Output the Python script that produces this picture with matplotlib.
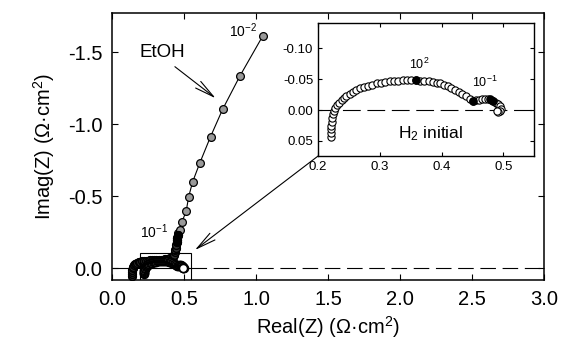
import numpy as np
import matplotlib
matplotlib.use("Agg")
import matplotlib.pyplot as plt
from matplotlib.patches import Rectangle

plt.rcParams['font.family'] = ['Liberation Sans', 'DejaVu Sans']
plt.rcParams['mathtext.default'] = 'regular'
plt.rcParams['axes.unicode_minus'] = False

# EtOH spectrum
etoh_x = [0.135, 0.135, 0.136, 0.138, 0.141, 0.145, 0.150, 0.157, 0.165, 0.174,
          0.184, 0.195, 0.207, 0.220, 0.234, 0.248, 0.262, 0.277, 0.292, 0.307,
          0.322, 0.337, 0.352, 0.366, 0.380, 0.393, 0.404, 0.413, 0.420, 0.427,
          0.433, 0.438, 0.442, 0.446, 0.449, 0.451, 0.453, 0.455, 0.459, 0.472,
          0.484, 0.514, 0.531, 0.558, 0.609, 0.683, 0.767, 0.887, 1.047]
etoh_y = [0.055, 0.040, 0.025, 0.012, 0.000, -0.010, -0.018, -0.025, -0.031, -0.036,
          -0.040, -0.043, -0.046, -0.048, -0.050, -0.052, -0.053, -0.054, -0.055, -0.056,
          -0.057, -0.058, -0.059, -0.060, -0.062, -0.064, -0.067, -0.072, -0.080, -0.092,
          -0.108, -0.125, -0.142, -0.160, -0.178, -0.195, -0.212, -0.228, -0.245, -0.264,
          -0.319, -0.396, -0.495, -0.597, -0.731, -0.912, -1.102, -1.333, -1.613]
# decade markers (filled black)
etoh_dec_x = [0.449, 0.451, 0.453, 0.455]
etoh_dec_y = [-0.178, -0.195, -0.212, -0.228]

# H2 initial spectrum
h2_x = [0.221, 0.221, 0.221, 0.2215, 0.222, 0.223, 0.2245, 0.226, 0.228, 0.231,
        0.234, 0.238, 0.242, 0.246, 0.251, 0.256, 0.262, 0.268, 0.274, 0.281,
        0.288, 0.295, 0.302, 0.309, 0.316, 0.323, 0.330, 0.337, 0.344, 0.351,
        0.358, 0.365, 0.372, 0.379, 0.386, 0.392, 0.398, 0.404, 0.410, 0.416,
        0.422, 0.428, 0.434, 0.440, 0.446, 0.451, 0.456, 0.461, 0.466, 0.471,
        0.476, 0.480, 0.484, 0.488, 0.491, 0.494, 0.496, 0.495, 0.492, 0.490]
h2_y = [0.043, 0.037, 0.031, 0.025, 0.019, 0.013, 0.007, 0.002, -0.003, -0.008,
        -0.012, -0.016, -0.020, -0.023, -0.026, -0.029, -0.032, -0.035, -0.037, -0.039,
        -0.041, -0.043, -0.0445, -0.0455, -0.0465, -0.047, -0.0475, -0.048, -0.048, -0.048,
        -0.048, -0.0475, -0.047, -0.0465, -0.0455, -0.0445, -0.043, -0.041, -0.039, -0.036,
        -0.033, -0.030, -0.026, -0.022, -0.018, -0.015, -0.016, -0.017, -0.018, -0.018,
        -0.018, -0.017, -0.015, -0.012, -0.009, -0.006, -0.002, 0.001, 0.003, 0.002]
h2_dec_x = [0.358, 0.451, 0.479, 0.484]
h2_dec_y = [-0.048, -0.015, -0.018, -0.015]

main_xticks = [0.0, 0.5, 1.0, 1.5, 2.0, 2.5, 3.0]
main_yticks = [0.0, -0.5, -1.0, -1.5]
ins_xticks = [0.2, 0.3, 0.4, 0.5]
ins_yticks = [-0.10, -0.05, 0.00, 0.05]

fig = plt.figure(figsize=(5.7, 3.53), dpi=100)
ax = fig.add_axes([0.197, 0.2068, 0.757, 0.7564])

ax.hlines(0, 0, 0.544, colors='k', lw=0.8)
ax.hlines(0, 0.544, 3.0, colors='k', lw=0.8, linestyles=(0, (14, 6)))

ax.plot(etoh_x, etoh_y, '-', color='k', lw=0.8, zorder=3)
ax.plot(etoh_x, etoh_y, 'o', ms=5.6, mfc='#999999', mec='k', mew=0.9, zorder=4)
ax.plot(etoh_x[:38], etoh_y[:38], 'o', ms=5.6, mfc='#333333', mec='k', mew=1.0, zorder=4)
ax.plot(etoh_dec_x, etoh_dec_y, 'o', ms=5.6, mfc='k', mec='k', zorder=5)
ax.plot(h2_x, h2_y, 'o', ms=5.8, mfc='white', mec='k', mew=1.1, zorder=4)

ax.add_patch(Rectangle((0.192, -0.104), 0.352, 0.19, fill=False, ec='k', lw=0.8, zorder=6))

ax.set_xlim(0, 3.0)
ax.set_ylim(0.083, -1.771)
ax.set_xticks(main_xticks)
ax.set_yticks(main_yticks)
ax.set_xticklabels(['%.1f' % v for v in main_xticks])
ax.set_yticklabels(['%.1f' % v for v in main_yticks])
ax.tick_params(direction='in', top=True, right=True, labelsize=14.5, length=4, width=0.8, pad=7)
for s in ax.spines.values():
    s.set_linewidth(1.1)
ax.set_xlabel('Real(Z) (\u03a9\u00b7cm$^2$)', fontsize=14.5, labelpad=4)
ax.set_ylabel('Imag(Z) (\u03a9\u00b7cm$^2$)', fontsize=14.5, labelpad=8)

ax.text(1.01, -1.65, '10$^{-2}$', fontsize=10, ha='right', va='center')
ax.text(0.387, -0.253, '10$^{-1}$', fontsize=10, ha='right', va='center')
ax.text(0.35, -1.5, 'EtOH', fontsize=13.5, ha='center', va='center')
ax.annotate('', xy=(0.734, -1.167), xytext=(0.42, -1.41),
            arrowprops=dict(arrowstyle='->,head_length=1.4,head_width=0.3', color='k', lw=0.8))

# inset
axi = fig.add_axes([0.558, 0.558, 0.379, 0.377])
axi.hlines(0, 0.2, 0.55, colors='k', lw=0.8, linestyles=(0, (16, 6)))
axi.plot(h2_x, h2_y, 'o', ms=5.2, mfc='white', mec='k', mew=0.8, zorder=4)
axi.plot(h2_dec_x, h2_dec_y, 'o', ms=5.2, mfc='k', mec='k', zorder=5)
axi.set_xlim(0.2, 0.55)
axi.set_ylim(0.0744, -0.141)
axi.set_xticks(ins_xticks)
axi.set_yticks(ins_yticks)
axi.set_xticklabels(['%.1f' % v for v in ins_xticks])
axi.set_yticklabels(['%.2f' % v for v in ins_yticks])
axi.tick_params(direction='in', top=True, right=True, labelsize=9.5, length=3, width=0.8)
for s in axi.spines.values():
    s.set_linewidth(1.0)
axi.text(0.364, -0.074, '10$^2$', fontsize=9, ha='center', va='center')
axi.text(0.47, -0.044, '10$^{-1}$', fontsize=9, ha='center', va='center')
axi.text(0.382, 0.038, 'H$_2$ initial', fontsize=12.5, ha='center', va='center')

# connector from inset corner to zoom box
ax.annotate('', xy=(0.574, -0.125), xycoords='data',
            xytext=(0, 0), textcoords=axi.transAxes,
            arrowprops=dict(arrowstyle='->,head_length=1.4,head_width=0.3', color='k', lw=0.8,
                            shrinkA=0, shrinkB=0))

fig.savefig('out.png', dpi=100)
